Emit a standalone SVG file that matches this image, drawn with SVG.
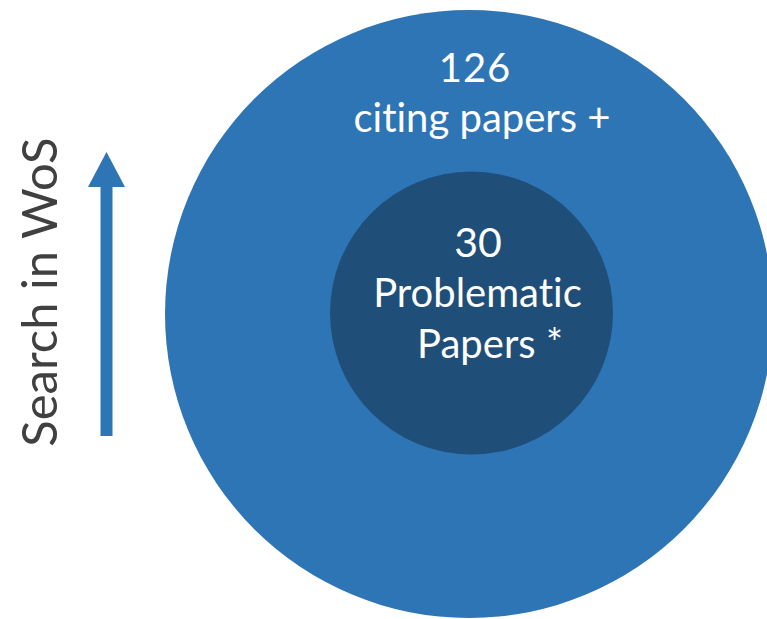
<svg xmlns="http://www.w3.org/2000/svg" width="767" height="619" viewBox="0 0 767 619">
  <style>
    .lbl { font-family: Lato, "Open Sans", "Liberation Sans", sans-serif; fill: #ffffff; text-anchor: middle; font-variant-ligatures: none; }
    .side { font-family: Lato, "Open Sans", "Liberation Sans", sans-serif; fill: #404040; text-anchor: middle; font-size: 49px; font-variant-ligatures: none; }
  </style>
  <rect width="767" height="619" fill="#ffffff"/>

  <!-- outer set: citing papers -->
  <g id="citing-papers">
    <circle cx="469" cy="314" r="304" fill="#2E75B6"/>
    <text class="lbl" x="475" y="82" font-size="40" letter-spacing="1">126</text>
    <text class="lbl" x="482" y="132" font-size="40">citing papers +</text>
  </g>

  <!-- inner set: problematic papers -->
  <g id="problematic-papers">
    <circle cx="471.5" cy="313" r="141.5" fill="#1F4E79"/>
    <text class="lbl" x="478" y="257" font-size="41">30</text>
    <text class="lbl" x="477.5" y="307" font-size="40">Problematic</text>
    <text class="lbl" x="490" y="358" font-size="40">Papers *</text>
  </g>

  <!-- search direction arrow -->
  <g id="connectors">
    <polygon points="100.5,436 112.5,436 112.5,187 125,187 106.5,152 88,187 100.5,187" fill="#2E75B6"/>
  </g>

  <g id="search-label">
    <text class="side" transform="translate(57,292) rotate(-90)">Search in WoS</text>
  </g>
</svg>
